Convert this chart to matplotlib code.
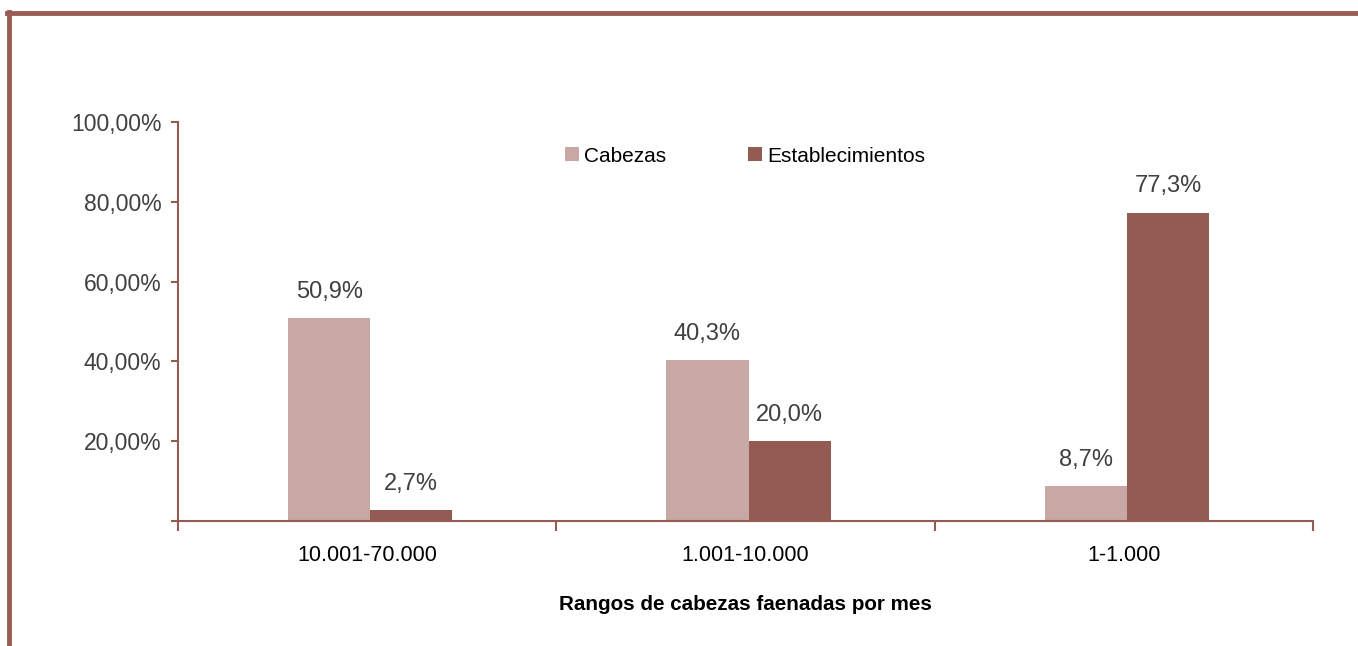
import numpy as np
import matplotlib
matplotlib.use("Agg")
import matplotlib.pyplot as plt
from matplotlib.lines import Line2D

plt.rcParams['font.family'] = ['Liberation Sans', 'DejaVu Sans']

# data ---------------------------------------------------------------------
rangos = ['10.001-70.000', '1.001-10.000', '1-1.000']
cabezas = [50.9, 40.3, 8.7]
establecimientos = [2.7, 20.0, 77.3]
yticks = [0, 20, 40, 60, 80, 100]

c_cab = '#C8A8A4'
c_est = '#935B52'
c_axis = '#935B52'

fig = plt.figure(figsize=(13.58, 6.46), dpi=100)
ax = fig.add_axes([178 / 1358, 125 / 646, (1313 - 178) / 1358, (521 - 122) / 646])

pos = np.arange(len(rangos))
w = 0.217
off = 0.008
b1 = ax.bar(pos - w / 2 + off, cabezas, w, color=c_cab, label='Cabezas')
b2 = ax.bar(pos + w / 2 + off, establecimientos, w, color=c_est, label='Establecimientos')

for bars, vals in ((b1, cabezas), (b2, establecimientos)):
    for b, v in zip(bars, vals):
        ax.annotate(('%.1f%%' % v).replace('.', ','),
                    (b.get_x() + b.get_width() / 2, v),
                    xytext=(0, 11), textcoords='offset points',
                    ha='center', va='bottom', fontsize=17, color='#404040')

ax.set_xlim(-0.5, len(rangos) - 0.5)
ax.set_ylim(0, 100)
ax.set_yticks(yticks)
ax.set_yticklabels([''] + ['%d,00%%' % t for t in yticks[1:]])
ax.set_xticks(pos)
ax.set_xticklabels(rangos)
ax.set_xticks(np.arange(-0.5, len(rangos)), minor=True)
ax.tick_params(axis='x', which='major', length=0, pad=17, labelsize=15.5, labelcolor='black')
ax.tick_params(axis='x', which='minor', length=7, width=1.5, color=c_axis, direction='out')
ax.tick_params(axis='y', length=5, width=1.5, color=c_axis, pad=7, labelsize=16.5,
               labelcolor='#404040')

for s in ('top', 'right'):
    ax.spines[s].set_visible(False)
for s in ('left', 'bottom'):
    ax.spines[s].set_color(c_axis)
    ax.spines[s].set_linewidth(1.5)

ax.set_xlabel('Rangos de cabezas faenadas por mes', fontsize=14.9, fontweight='bold',
              labelpad=21)

fig.legend(loc='center left', bbox_to_anchor=(565 / 1358, 1 - 156 / 646), ncol=2,
           frameon=False, fontsize=15, handlelength=0.68, handleheight=0.68,
           handletextpad=0.25, columnspacing=3.9, borderpad=0, borderaxespad=0)

# outer frame (top and left)
fig.add_artist(Line2D([7 / 1358, 1], [1 - 13 / 646, 1 - 13 / 646], color='#9A5D55',
                      linewidth=3.5, transform=fig.transFigure))
fig.add_artist(Line2D([8.5 / 1358, 8.5 / 1358], [0, 1 - 12 / 646], color='#9A5D55',
                      linewidth=3.5, transform=fig.transFigure))

fig.savefig('out.png', dpi=100)
